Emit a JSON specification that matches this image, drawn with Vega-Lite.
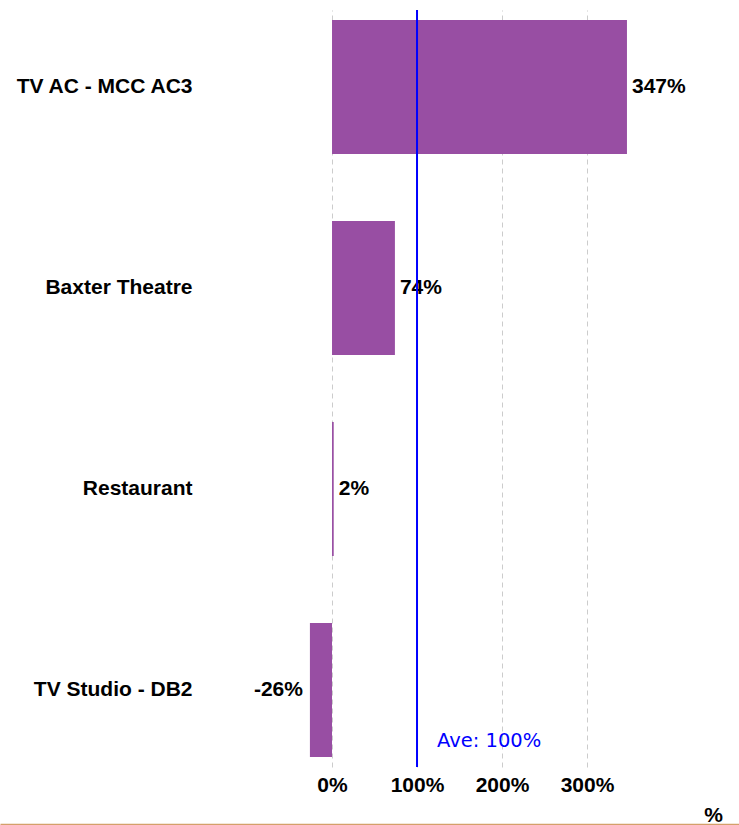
{
  "$schema": "https://vega.github.io/schema/vega-lite/v6.json",
  "autosize": {"type": "none"},
  "width": 739,
  "height": 757,
  "padding": {"left": 0, "right": 0, "top": 10, "bottom": 58},
  "background": "white",
  "config": {"view": {"stroke": null}},
  "datasets": {
    "bars": [
      {"name": "TV AC - MCC AC3", "value": 347, "label": "347%"},
      {"name": "Baxter Theatre", "value": 74, "label": "74%"},
      {"name": "Restaurant", "value": 2, "label": "2%"},
      {"name": "TV Studio - DB2", "value": -26, "label": "-26%"}
    ],
    "ave": [{"value": 100, "label": "Ave: 100%", "at": "TV Studio - DB2"}]
  },
  "layer": [
    {
      "data": {"name": "bars"},
      "mark": {"type": "bar", "color": "#984ea3"},
      "encoding": {
        "y": {
          "field": "name", "type": "nominal", "sort": null,
          "scale": {"domain": ["TV AC - MCC AC3", "Baxter Theatre", "Restaurant", "TV Studio - DB2"], "paddingInner": 0.333, "paddingOuter": 0.05},
          "axis": {
            "title": null, "domain": false, "ticks": false, "tickSize": 0, "grid": false,
            "labelPadding": -192, "labelAlign": "right", "labelLimit": 0,
            "labelFont": "Liberation Sans", "labelFontWeight": "bold", "labelFontSize": 21, "labelColor": "black"
          }
        },
        "x": {
          "field": "value", "type": "quantitative",
          "scale": {"domain": [-390.6, 478.8], "nice": false, "zero": false},
          "axis": {
            "values": [0, 100, 200, 300],
            "labelExpr": "datum.value + '%'",
            "grid": true, "gridDash": [5, 4], "gridColor": "#cccccc", "gridWidth": 1,
            "ticks": false, "tickSize": 0,
            "domain": true, "domainColor": "#d4a06a", "domainWidth": 1.5,
            "offset": 57,
            "labelPadding": -39, "labelBaseline": "middle", "labelOverlap": false, "labelFlush": false,
            "labelFont": "Liberation Sans", "labelFontWeight": "bold", "labelFontSize": 21, "labelColor": "black",
            "title": "%", "titleFont": "Liberation Sans", "titleFontSize": 21, "titleFontWeight": "bold", "titleColor": "black",
            "titleX": 713, "titleY": -9, "titleBaseline": "middle", "titleAlign": "center", "titlePadding": 0
          }
        }
      }
    },
    {
      "data": {"name": "bars"},
      "transform": [{"filter": "datum.value >= 0"}],
      "mark": {"type": "text", "align": "left", "baseline": "middle", "dx": 5, "font": "Liberation Sans", "fontWeight": "bold", "fontSize": 21, "color": "black"},
      "encoding": {
        "y": {"field": "name", "type": "nominal", "sort": null},
        "x": {"field": "value", "type": "quantitative"},
        "text": {"field": "label", "type": "nominal"}
      }
    },
    {
      "data": {"name": "bars"},
      "transform": [{"filter": "datum.value < 0"}],
      "mark": {"type": "text", "align": "right", "baseline": "middle", "dx": -7, "font": "Liberation Sans", "fontWeight": "bold", "fontSize": 21, "color": "black"},
      "encoding": {
        "y": {"field": "name", "type": "nominal", "sort": null},
        "x": {"field": "value", "type": "quantitative"},
        "text": {"field": "label", "type": "nominal"}
      }
    },
    {
      "data": {"name": "ave"},
      "mark": {"type": "rule", "color": "#0000ff", "strokeWidth": 2},
      "encoding": {
        "x": {"field": "value", "type": "quantitative"}
      }
    },
    {
      "data": {"name": "ave"},
      "mark": {"type": "text", "align": "left", "baseline": "middle", "dx": 20, "dy": 51, "font": "DejaVu Sans", "fontSize": 19.5, "color": "#0000ff"},
      "encoding": {
        "x": {"field": "value", "type": "quantitative"},
        "y": {"field": "at", "type": "nominal"},
        "text": {"field": "label", "type": "nominal"}
      }
    }
  ]
}
